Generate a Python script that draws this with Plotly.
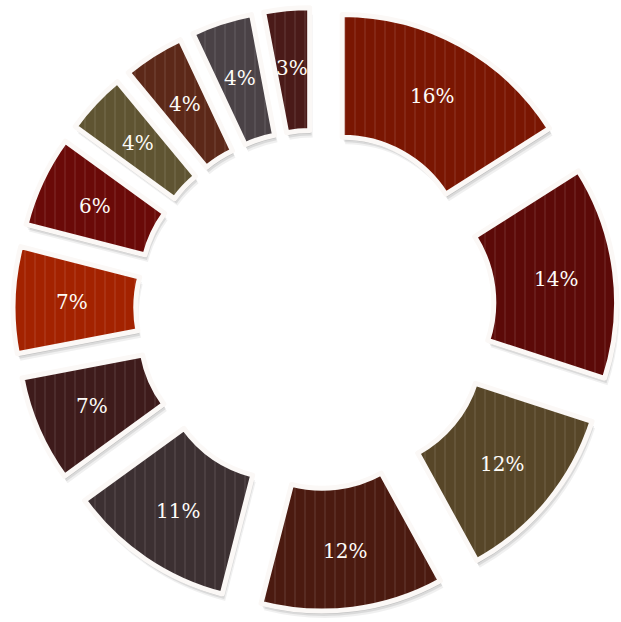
import math
import plotly.graph_objects as go

# Share of each segment, in percent, clockwise from 12 o'clock
labels = ["A", "B", "C", "D", "E", "F", "G", "H", "I", "J", "K", "L"]
values = [16, 14, 12, 12, 11, 7, 7, 6, 4, 4, 4, 3]
colors = ["#7a1602", "#5c0a08", "#574628", "#4b1a10", "#3c3032", "#3e1b1b",
          "#a32200", "#6a0a08", "#5f5432", "#5c2818", "#4a4246", "#4a1a18"]

W, H = 621, 622
cx, cy, half = 315, 309.5, 302        # pie box centre and half-size, px
PULL, HOLE = 0.23, 0.5


def box(dx=0, dy=0):
    x0 = max(0.0, (cx - half + dx) / W)
    x1 = min(1.0, (cx + half + dx) / W)
    y0 = max(0.0, (H - (cy + half + dy)) / H)
    y1 = min(1.0, (H - (cy - half + dy)) / H)
    return dict(x=[x0, x1], y=[y0, y1])


common = dict(
    labels=labels, values=values, sort=False, direction="clockwise",
    rotation=0, hole=HOLE, pull=[PULL] * len(values),
)

fig = go.Figure()

# soft drop shadow beneath each slice
for dx, dy, a in [(3, 7, 0.06), (2, 5, 0.09), (1, 3, 0.12)]:
    fig.add_trace(go.Pie(
        **common, domain=box(dx, dy),
        marker=dict(colors=[f"rgba(0,0,0,{a})"] * len(values),
                    line=dict(color="rgba(0,0,0,0)", width=6)),
        textinfo="none", hoverinfo="skip", showlegend=False,
    ))

# striped slices with white outlines
fig.add_trace(go.Pie(
    **common, domain=box(),
    marker=dict(
        colors=colors,
        line=dict(color="#fbf8f6", width=5),
        pattern=dict(shape="|", size=10, solidity=0.12,
                     fgcolor="rgba(255,255,255,1)", fgopacity=0.12,
                     fillmode="overlay"),
    ),
    textinfo="none",
    hovertemplate="%{value}%<extra></extra>",
    showlegend=False,
))

# percentage labels, centred in the middle of each pulled ring segment
R = half / (1 + PULL)
r_label = PULL * R + HOLE * R + 0.52 * (R - HOLE * R)
total = sum(values)
cum = 0
for v in values:
    mid = (cum + v / 2) / total * 2 * math.pi
    cum += v
    px = cx + r_label * math.sin(mid)
    py = cy - r_label * math.cos(mid)
    fig.add_annotation(
        x=px / W, y=1 - py / H, xref="paper", yref="paper",
        text=f"{v}%", showarrow=False,
        font=dict(family="DejaVu Serif, Liberation Serif, serif",
                  size=20, color="#fdfbf7"),
        xanchor="center", yanchor="middle",
    )

fig.update_layout(
    width=W, height=H,
    margin=dict(l=0, r=0, t=0, b=0),
    paper_bgcolor="white", plot_bgcolor="white",
)

fig.write_html("out.html")
